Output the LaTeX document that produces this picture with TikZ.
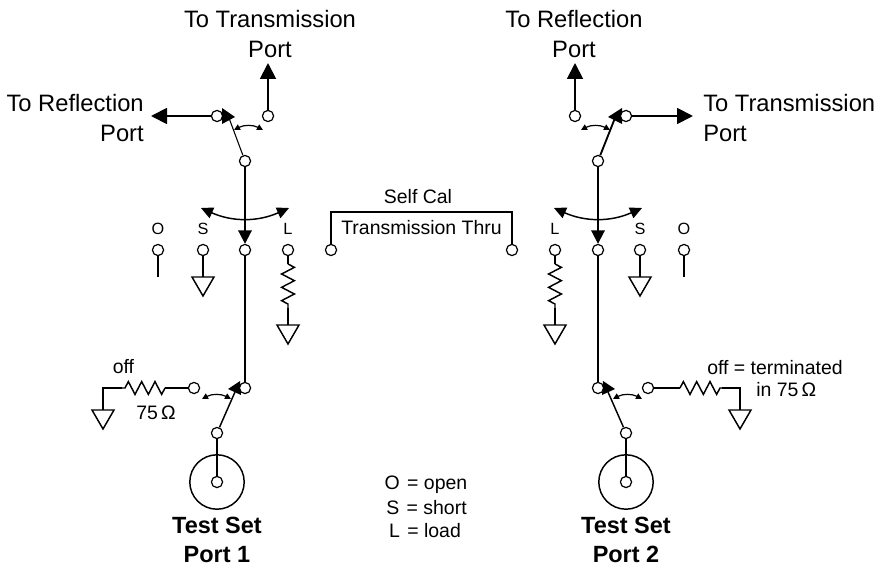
\documentclass[tikz,border=0pt]{standalone}
\usepackage{fontspec}
\setmainfont{Liberation Sans}
\usetikzlibrary{arrows.meta,decorations.pathmorphing}
\tikzset{
  x=0.75pt,y=-0.75pt,
  conn/.style={draw=black,line width=1.4pt},
  wire/.style={draw=black,line width=1.1pt},
  outarrow/.style={conn,-{Triangle[length=12pt,width=12pt]}},
  downarrow/.style={conn,-{Triangle[length=10pt,width=10pt]}},
  swing/.style={draw=black,line width=1.1pt,{Triangle[length=9pt,width=8.5pt]}-{Triangle[length=9pt,width=8.5pt]}},
  swingS/.style={draw=black,line width=0.9pt,{Triangle[length=4.5pt,width=4.5pt]}-{Triangle[length=4.5pt,width=4.5pt]}},
  port/.style={circle,draw=black,fill=white,line width=0.9pt,inner sep=0pt,minimum size=8.4pt},
  big/.style={font=\fontsize{17.8}{22}\selectfont,inner sep=0pt},
  mid/.style={font=\fontsize{14.6}{17}\selectfont,inner sep=0pt},
  small/.style={font=\fontsize{12.2}{15}\selectfont,inner sep=0pt},
  bold/.style={font=\fontsize{17.6}{21.5}\selectfont\bfseries,inner sep=0pt,align=center},
  res/.style={wire,line join=miter,decorate,decoration={zigzag,segment length=10pt,amplitude=4.8pt}},
  gnd/.style={draw=black,line width=1.1pt,fill=white},
  head/.style={fill=black,draw=none},
  coax/.style={circle,draw=black,line width=1.1pt,minimum size=40.8pt,inner sep=0pt}
}
\begin{document}
\begin{tikzpicture}
\useasboundingbox (0,0) rectangle (876,567);
% contact arrowheads lie under the contact circles
\fill[head] (222,108) -- (235,117) -- (222,124) -- cycle;
\fill[head] (622,108) -- (608,117) -- (622,124) -- cycle;
\fill[head] (240,381) -- (228,389) -- (241,395) -- cycle;
\fill[head] (603,381) -- (615,389) -- (602,395) -- cycle;
% coax outlines
\node[coax] (c1) at (217,482) {};
\node[coax] (c2) at (626,482) {};
% contacts, left
\node[port] (lrefl) at (217,116) {};
\node[port] (ltran) at (268,116) {};
\node[port] (lpole) at (245,161) {};
\node[port] (lo) at (158,250) {};
\node[port] (ls) at (203,250) {};
\node[port] (lm) at (245,250) {};
\node[port] (ll) at (288,250) {};
\node[port] (lb) at (245,388) {};
\node[port] (loff) at (194,388) {};
\node[port] (lp) at (217,433) {};
\node[port] (lc) at (217,482) {};
% contacts, right
\node[port] (rrefl) at (575,116) {};
\node[port] (rtran) at (626,116) {};
\node[port] (rpole) at (598,161) {};
\node[port] (ro) at (684,250) {};
\node[port] (rs) at (640,250) {};
\node[port] (rm) at (598,250) {};
\node[port] (rl) at (555,250) {};
\node[port] (rb) at (598,388) {};
\node[port] (roff) at (648,388) {};
\node[port] (rp) at (626,433) {};
\node[port] (rc) at (626,482) {};
% thru
\node[port] (t1) at (331,250) {};
\node[port] (t2) at (512,250) {};
% free ends
\coordinate (a1) at (151,116);
\coordinate (a2) at (268,63);
\coordinate (a3) at (575,63);
\coordinate (a4) at (693,116);
\coordinate (lsw) at (229,118);
\coordinate (rsw) at (615,118);
\coordinate (lbsw) at (235,392);
\coordinate (rbsw) at (608,392);
\coordinate (loe) at (158,277);
\coordinate (roe) at (684,277);
% main connectors
\draw[outarrow] (lrefl) -- (a1);
\draw[outarrow] (ltran) -- (a2);
\draw[outarrow] (rrefl) -- (a3);
\draw[outarrow] (rtran) -- (a4);
\draw[wire,line width=0.8pt] (lpole) -- (lsw);
\draw[conn] (rpole) -- (rsw);
\draw[downarrow] (lpole) -- (lm);
\draw[downarrow] (rpole) -- (rm);
\draw[wire] (lm) -- (lb);
\draw[conn] (rm) -- (rb);
\draw[wire] (lp) -- (lbsw);
\draw[wire] (rp) -- (rbsw);
\draw[wire] (lp) -- (lc);
\draw[wire] (rp) -- (rc);
\draw[wire] (lo) -- (loe);
\draw[wire] (ro) -- (roe);
% small swing arrows
\coordinate (s1a) at (234,130); \coordinate (s1b) at (263,130);
\coordinate (s2a) at (581,130); \coordinate (s2b) at (610,130);
\coordinate (s3a) at (202,399); \coordinate (s3b) at (231,399);
\coordinate (s4a) at (613,399); \coordinate (s4b) at (642,399);
\draw[swingS] (s1a) to[bend left=28] (s1b);
\draw[swingS] (s2a) to[bend left=28] (s2b);
\draw[swingS] (s3a) to[bend left=28] (s3b);
\draw[swingS] (s4a) to[bend left=28] (s4b);
% large swing arrows
\coordinate (b1a) at (201,208); \coordinate (b1b) at (289,208);
\coordinate (b2a) at (554,208); \coordinate (b2b) at (642,208);
\draw[swing] (b1a) to[bend right=24] (b1b);
\draw[swing] (b2a) to[bend right=24] (b2b);
% short to ground
\coordinate (g1) at (203,277);
\coordinate (g2) at (640,277);
\draw[wire] (ls) -- (g1);
\draw[wire] (rs) -- (g2);
\draw[gnd] (192,277) -- (214,277) -- (203,296) -- cycle;
\draw[gnd] (629,277) -- (651,277) -- (640,296) -- cycle;
% load resistors
\coordinate (l1a) at (288,264); \coordinate (l1b) at (288,308);
\coordinate (l1g) at (288,325);
\coordinate (l2a) at (555,264); \coordinate (l2b) at (555,308);
\coordinate (l2g) at (555,325);
\draw[wire] (ll) -- (l1a);
\draw[res] (l1a) -- (l1b);
\draw[wire] (l1b) -- (l1g);
\draw[gnd] (277,325) -- (299,325) -- (288,344) -- cycle;
\draw[wire] (rl) -- (l2a);
\draw[res] (l2a) -- (l2b);
\draw[wire] (l2b) -- (l2g);
\draw[gnd] (544,325) -- (566,325) -- (555,344) -- cycle;
% off terminations
\coordinate (o1a) at (165,388); \coordinate (o1b) at (122,388);
\coordinate (o1c) at (103,388); \coordinate (o1g) at (103,410);
\coordinate (o2a) at (680,388); \coordinate (o2b) at (722,388);
\coordinate (o2c) at (740,388); \coordinate (o2g) at (740,410);
\draw[wire] (loff) -- (o1a);
\draw[res] (o1a) -- (o1b);
\draw[wire] (o1b) -- (o1c) -- (o1g);
\draw[gnd] (92,410) -- (114,410) -- (103,429) -- cycle;
\draw[wire] (roff) -- (o2a);
\draw[res] (o2a) -- (o2b);
\draw[wire] (o2b) -- (o2c) -- (o2g);
\draw[gnd] (729,410) -- (751,410) -- (740,429) -- cycle;
% thru
\draw[wire] (t1) |- (421,212) -| (t2);
% texts
\node[big,align=center] (x1) at (270,34) {To Transmission\\Port};
\node[big,align=right,anchor=east] (x2) at (144,118) {To Reflection\\Port};
\node[big,align=center] (x3) at (574,34) {To Reflection\\Port};
\node[big,align=left,anchor=west] (x4) at (703,118) {To Transmission\\Port};
\node[small] (tO1) at (158,229) {O};
\node[small] (tS1) at (203,229) {S};
\node[small] (tL1) at (288,229) {L};
\node[small] (tL2) at (555,229) {L};
\node[small] (tS2) at (640,229) {S};
\node[small] (tO2) at (684,229) {O};
\node[mid] (self) at (418,197) {Self Cal};
\node[mid] (thru) at (421.5,228) {Transmission Thru};
\node[mid] (off1) at (123.5,367) {off};
\node[mid] (ohm1) at (156,413) {75\,Ω};
\node[mid,anchor=west] (off2) at (707,367.5) {off = terminated};
\node[mid,anchor=west] (ohm2) at (756,390) {in 75\,Ω};
\node[mid] (leg1) at (426,485) {O\hspace{.1em} = open};
\node[mid] (leg2) at (426.5,508) {S\hspace{.1em} = short};
\node[mid] (leg3) at (425,531) {L\hspace{.1em} = load};
\node[bold] (p1) at (217,540) {Test Set\\Port 1};
\node[bold] (p2) at (626,540) {Test Set\\Port 2};
\end{tikzpicture}
\end{document}
